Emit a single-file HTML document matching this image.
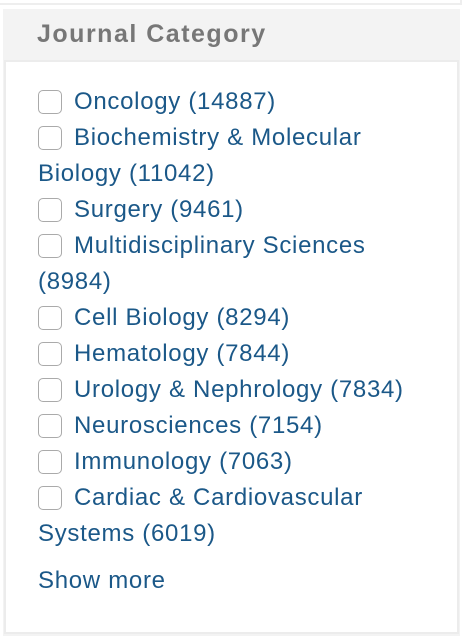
<!DOCTYPE html>
<html><head><meta charset="utf-8"><style>
body{margin:0;width:464px;height:642px;background:#fff;position:relative;overflow:hidden;font-family:"Liberation Sans",Arial,sans-serif}
.prev{position:absolute;left:0;top:0;width:460px;height:3px;border-bottom:2px solid #eee;border-right:2px solid #eee}
.panel{position:absolute;left:3px;top:9px;width:457px;height:627px;background:#f3f3f3}
.hdr{position:absolute;left:34px;top:11px;font-size:25px;letter-spacing:1.5px;font-weight:bold;color:#777}
.box{position:absolute;left:1px;top:51px;width:451px;height:570px;background:#fff;border:2px solid #ececec}
.list{position:absolute;left:32px;top:22px;font-size:24px;letter-spacing:0.7px;line-height:36px;color:#1b5888;white-space:nowrap}
.cb{display:inline-block;width:24px;height:24px;border:1px solid #aaa;border-radius:5px;background:#fff;vertical-align:-5px;margin-right:12px;box-sizing:border-box}
.more{margin-top:11px}
</style></head><body>
<div class="prev"></div>
<div class="panel">
<div class="hdr">Journal Category</div>
<div class="box">
<div class="list">
<div><span class="cb"></span>Oncology (14887)</div>
<div><span class="cb"></span>Biochemistry &amp; Molecular<br>Biology (11042)</div>
<div><span class="cb"></span>Surgery (9461)</div>
<div><span class="cb"></span>Multidisciplinary Sciences<br>(8984)</div>
<div><span class="cb"></span>Cell Biology (8294)</div>
<div><span class="cb"></span>Hematology (7844)</div>
<div><span class="cb"></span>Urology &amp; Nephrology (7834)</div>
<div><span class="cb"></span>Neurosciences (7154)</div>
<div><span class="cb"></span>Immunology (7063)</div>
<div><span class="cb"></span>Cardiac &amp; Cardiovascular<br>Systems (6019)</div>
<div class="more">Show more</div>
</div>
</div>
</div>
</body></html>
